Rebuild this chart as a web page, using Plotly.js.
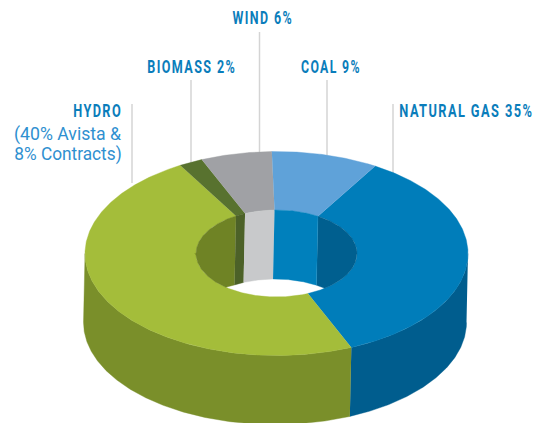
<!DOCTYPE html>
<html>
<head>
<meta charset="utf-8">
<script src="https://cdn.plot.ly/plotly-3.0.1.min.js"></script>
<style>
html,body{margin:0;padding:0;background:#fff}
#chart{width:539px;height:423px}
</style>
</head>
<body>
<div id="chart"></div>
<script>
// data
var categories = ["Natural Gas", "Hydro", "Biomass", "Wind", "Coal"];
var shares = [35, 48, 2, 6, 9];
var labelText = ["NATURAL GAS 35%", "HYDRO", "BIOMASS 2%", "WIND 6%", "COAL 9%"];
var hydroNote = ["(40% Avista &", "8% Contracts)"];
// colours
var topColors = ["#007dba", "#a4bd3a", "#58722f", "#a0a1a5", "#5fa2d9"];
var outerWallColors = ["#005d8e", "#7a8f2a", "#4c6128", "#808185", "#3f7fb0"];
var innerWallColors = ["#005f8f", "#6f8325", "#4c6128", "#c8c9cb", "#0080bc"];
// projection
var cx = 276.5, cy = 253.5, Rx = 191.5, Ry = 102, rx = 80.5, ry = 43.5, depth = 69, skew = -1.5, startDeg = 31;

function pt(a, ex, ey, low) {
  var t = a * Math.PI / 180;
  return [cx + ex * Math.sin(t) + (low ? skew : 0), cy - ey * Math.cos(t) + (low ? depth : 0)];
}
function steps(a0, a1) {
  var n = Math.max(2, Math.ceil(Math.abs(a1 - a0) * 2)), out = [];
  for (var i = 0; i <= n; i++) out.push(a0 + (a1 - a0) * i / n);
  return out;
}
function poly(points, color) {
  return {
    type: "scatter", mode: "lines", fill: "toself", fillcolor: color,
    x: points.map(function (p) { return p[0]; }),
    y: points.map(function (p) { return p[1]; }),
    line: { color: color, width: 0.4 }, hoverinfo: "skip", showlegend: false
  };
}
function overlap(a0, a1, lo, hi) {
  var res = [];
  [-360, 0, 360].forEach(function (k) {
    var s = Math.max(a0 + k, lo), e = Math.min(a1 + k, hi);
    if (e > s) res.push([s, e]);
  });
  return res;
}

var slices = [], acc = startDeg, total = shares.reduce(function (a, b) { return a + b; }, 0);
shares.forEach(function (v, i) {
  var a0 = acc, a1 = acc + v / total * 360;
  slices.push({ a0: a0, a1: a1, i: i });
  acc = a1;
});

var traces = [];
// outer wall (front half)
slices.forEach(function (s) {
  overlap(s.a0, s.a1, 90, 270).forEach(function (r) {
    var top = steps(r[0], r[1]).map(function (a) { return pt(a, Rx, Ry, false); });
    var bot = steps(r[1], r[0]).map(function (a) { return pt(a, Rx, Ry, true); });
    traces.push(poly(top.concat(bot), outerWallColors[s.i]));
  });
});
// top face
slices.forEach(function (s) {
  var o = steps(s.a0, s.a1).map(function (a) { return pt(a, Rx, Ry, false); });
  var n = steps(s.a1, s.a0).map(function (a) { return pt(a, rx, ry, false); });
  traces.push(poly(o.concat(n), topColors[s.i]));
});
// inner wall (back half, clipped by the hole's near rim)
slices.forEach(function (s) {
  overlap(s.a0, s.a1, -90, 90).forEach(function (r) {
    var top = steps(r[0], r[1]).map(function (a) { return pt(a, rx, ry, false); });
    var bot = steps(r[1], r[0]).map(function (a) {
      var p = pt(a, rx, ry, true), u = (p[0] - cx) / rx;
      var rim = cy + ry * Math.sqrt(Math.max(0, 1 - u * u));
      return [p[0], Math.min(p[1], rim)];
    });
    traces.push(poly(top.concat(bot), innerWallColors[s.i]));
  });
});

var leaderColor = "#d4d4d4";
function leader(x, y0, y1) {
  return { type: "line", xref: "x", yref: "y", x0: x, x1: x, y0: y0, y1: y1, line: { color: leaderColor, width: 1.5 }, layer: "below" };
}
var boldFont = { family: "Roboto, 'Liberation Sans', sans-serif", size: 18, color: "#0a7dbb", weight: 700 };
var noteFont = { family: "Roboto, 'Liberation Sans', sans-serif", size: 18, color: "#2f90d0", weight: 400 };
// [text, left, right, middle y, font, letter spacing]
var labelBoxes = [
  [labelText[0], 399, 533, 110.5, boldFont, 2],
  [labelText[1], 73, 122, 110.5, boldFont, 2],
  [hydroNote[0], 14, 122, 133.5, noteFont, 0],
  [hydroNote[1], 14, 121.5, 154, noteFont, 0],
  [labelText[2], 147, 236, 66, boldFont, 2],
  [labelText[3], 233, 293.5, 17, boldFont, 2],
  [labelText[4], 301, 361, 66, boldFont, 2]
];

var layout = {
  width: 539, height: 423, margin: { l: 0, r: 0, t: 0, b: 0 },
  paper_bgcolor: "#fff", plot_bgcolor: "#fff", showlegend: false,
  xaxis: { range: [0, 539], visible: false, fixedrange: true },
  yaxis: { range: [423, 0], visible: false, fixedrange: true },
  shapes: [leader(132, 104, 183), leader(191, 80, 165), leader(259.5, 32, 155), leader(327, 80, 156), leader(393, 104, 175)],
  annotations: labelBoxes.map(function (b) {
    return { xref: "x", yref: "y", x: (b[1] + b[2]) / 2, y: b[3], text: b[0], showarrow: false,
             xanchor: "center", yanchor: "middle", font: b[4] };
  })
};
Plotly.newPlot("chart", traces, layout, { displayModeBar: false, staticPlot: true }).then(function (gd) {
  var nodes = gd.querySelectorAll("text.annotation-text");
  nodes.forEach(function (node, i) {
    var b = labelBoxes[i];
    node.style.letterSpacing = b[5] + "px";
    var box = node.getBBox();
    var mid = box.x + box.width / 2;
    var scale = (b[2] - b[1]) / box.width;
    node.setAttribute("transform", "translate(" + mid + ",0) scale(" + scale + ",1) translate(" + (-mid) + ",0)");
  });
});
</script>
</body>
</html>
